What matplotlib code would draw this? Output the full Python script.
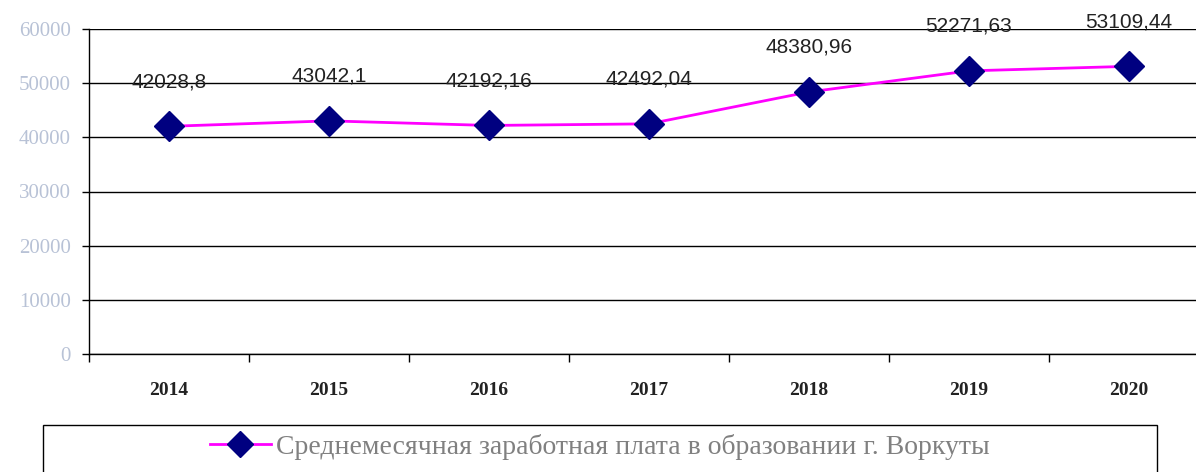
import matplotlib.pyplot as plt
from matplotlib.patches import Rectangle

# Data
years = ['2014', '2015', '2016', '2017', '2018', '2019', '2020']
salary = [42028.8, 43042.1, 42192.16, 42492.04, 48380.96, 52271.63, 53109.44]
labels = ['42028,8', '43042,1', '42192,16', '42492,04', '48380,96', '52271,63', '53109,44']
series_name = 'Среднемесячная заработная плата в образовании г. Воркуты'

fig = plt.figure(figsize=(11.96, 4.72), dpi=100)
ax = fig.add_axes([89 / 1196, 118 / 472, 1120 / 1196, 325 / 472])

x = list(range(len(years)))
line, = ax.plot(x, salary, color='#ff00ff', linewidth=2, marker='D',
                markersize=15, markerfacecolor='#000080', markeredgecolor='#000080',
                zorder=3)

for xi, v, lab in zip(x, salary, labels):
    ax.annotate(lab, (xi, v), xytext=(0, 32), textcoords='offset points',
                ha='center', va='center', fontsize=15, color='#222222',
                family='Liberation Sans')

ax.set_xlim(-0.5, len(years) - 0.5)
ax.set_ylim(0, 60000)
ax.set_yticks(range(0, 60001, 10000))
ax.yaxis.grid(True, color='black', linewidth=1)
ax.set_axisbelow(True)

ax.set_xticks(x)
ax.set_xticklabels(years, family='Liberation Serif', fontsize=14, fontweight='bold',
                   color='#222222')
ax.set_xticks([i - 0.5 for i in range(len(years) + 1)], minor=True)
ax.tick_params(axis='x', which='major', length=0, pad=20)
ax.tick_params(axis='x', which='minor', length=6, width=1, direction='out')
ax.tick_params(axis='y', length=5, width=1, direction='out', pad=8,
               labelcolor='#b8c2d6', labelsize=15)
for t in ax.get_yticklabels():
    t.set_family('Liberation Serif')

ax.spines['top'].set_visible(False)
ax.spines['right'].set_visible(False)
ax.spines['left'].set_linewidth(1)
ax.spines['bottom'].set_linewidth(1)

# legend box
fig.patches.append(Rectangle((43 / 1196, -0.05), 1114 / 1196, 0.05 + 47 / 472,
                             transform=fig.transFigure, fill=False,
                             edgecolor='black', linewidth=1))
fig.legend([line], [series_name], loc='center', bbox_to_anchor=(600 / 1196, 25 / 472),
           frameon=False, handlelength=2.2, handletextpad=0.2,
           prop={'family': 'Liberation Serif', 'size': 20}, labelcolor='#808080',
           markerscale=0.9)

fig.savefig('out.png', dpi=100)
